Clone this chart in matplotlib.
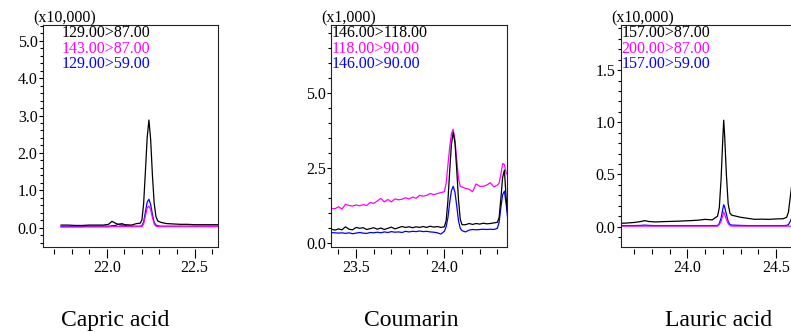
import matplotlib
matplotlib.use('Agg')
import matplotlib.pyplot as plt
from matplotlib.ticker import MultipleLocator, FormatStrFormatter

plt.rcParams['font.family'] = ['Liberation Serif', 'DejaVu Serif']
plt.rcParams['font.size'] = 11.5

# ---- Capric acid (x10,000) ----
capric_time = [21.74, 21.78, 21.82, 21.86, 21.90, 21.94, 21.98, 22.01, 22.03, 22.05,
               22.07, 22.09, 22.11, 22.14, 22.17, 22.19, 22.20, 22.21, 22.22, 22.23,
               22.24, 22.25, 22.26, 22.27, 22.28, 22.29, 22.31, 22.34, 22.38, 22.42,
               22.46, 22.50, 22.54, 22.58, 22.64]
capric_129_87 = [0.07, 0.07, 0.06, 0.06, 0.07, 0.07, 0.07, 0.09, 0.17, 0.12,
                 0.08, 0.07, 0.08, 0.07, 0.11, 0.12, 0.20, 0.65, 1.50, 2.40,
                 2.88, 2.35, 1.40, 0.65, 0.30, 0.18, 0.14, 0.11, 0.10, 0.09,
                 0.09, 0.08, 0.08, 0.08, 0.08]
capric_143_87 = [0.02, 0.02, 0.02, 0.02, 0.02, 0.02, 0.02, 0.02, 0.03, 0.03,
                 0.03, 0.03, 0.03, 0.03, 0.03, 0.03, 0.03, 0.10, 0.32, 0.52,
                 0.58, 0.48, 0.27, 0.10, 0.04, 0.03, 0.03, 0.03, 0.03, 0.03,
                 0.03, 0.03, 0.03, 0.03, 0.03]
capric_129_59 = [0.03, 0.03, 0.03, 0.03, 0.04, 0.04, 0.04, 0.04, 0.05, 0.06,
                 0.10, 0.11, 0.05, 0.04, 0.04, 0.04, 0.05, 0.15, 0.42, 0.68,
                 0.76, 0.62, 0.35, 0.14, 0.07, 0.05, 0.04, 0.04, 0.04, 0.04,
                 0.04, 0.04, 0.04, 0.04, 0.04]

# ---- Coumarin (x1,000) ----
coumarin_time = [23.34, 23.38, 23.40, 23.42, 23.44, 23.46, 23.48, 23.50, 23.52, 23.54,
                 23.56, 23.58, 23.60, 23.62, 23.64, 23.66, 23.68, 23.70, 23.72, 23.74,
                 23.76, 23.78, 23.80, 23.82, 23.84, 23.86, 23.88, 23.90, 23.92, 23.94,
                 23.96, 23.98, 24.00, 24.01, 24.02, 24.03, 24.04, 24.05, 24.06, 24.07,
                 24.08, 24.09, 24.10, 24.12, 24.14, 24.16, 24.18, 24.20, 24.22, 24.24,
                 24.26, 24.28, 24.30, 24.31, 24.32, 24.33, 24.34, 24.35, 24.36]
coumarin_146_118 = [0.50, 0.44, 0.48, 0.45, 0.55, 0.47, 0.45, 0.53, 0.50, 0.52,
                    0.46, 0.49, 0.52, 0.47, 0.51, 0.46, 0.50, 0.54, 0.48, 0.52,
                    0.56, 0.53, 0.55, 0.52, 0.55, 0.53, 0.56, 0.53, 0.57, 0.54,
                    0.56, 0.53, 0.55, 0.75, 1.40, 2.40, 3.30, 3.70, 3.35, 2.45,
                    1.45, 0.80, 0.62, 0.62, 0.66, 0.63, 0.66, 0.64, 0.67, 0.65,
                    0.66, 0.68, 0.70, 0.85, 1.50, 2.20, 2.44, 1.50, 0.90]
coumarin_118_90 = [1.17, 1.15, 1.22, 1.14, 1.30, 1.26, 1.24, 1.28, 1.25, 1.29,
                   1.26, 1.36, 1.33, 1.41, 1.50, 1.38, 1.46, 1.38, 1.48, 1.45,
                   1.47, 1.52, 1.48, 1.54, 1.50, 1.60, 1.57, 1.60, 1.66, 1.62,
                   1.66, 1.69, 1.72, 2.00, 2.60, 3.20, 3.65, 3.80, 3.45, 2.80,
                   2.15, 1.90, 1.88, 1.83, 1.80, 1.72, 1.98, 1.90, 1.90, 1.94,
                   2.02, 1.88, 1.94, 2.00, 2.30, 2.66, 2.62, 2.35, 2.25]
coumarin_146_90 = [0.36, 0.35, 0.34, 0.35, 0.33, 0.35, 0.32, 0.34, 0.36, 0.34,
                   0.33, 0.36, 0.35, 0.37, 0.35, 0.38, 0.36, 0.39, 0.37, 0.38,
                   0.36, 0.40, 0.38, 0.40, 0.39, 0.41, 0.39, 0.40, 0.38, 0.37,
                   0.35, 0.31, 0.40, 0.55, 0.85, 1.35, 1.75, 1.90, 1.70, 1.25,
                   0.75, 0.50, 0.42, 0.38, 0.44, 0.46, 0.45, 0.46, 0.47, 0.46,
                   0.47, 0.46, 0.50, 0.70, 1.20, 1.62, 1.74, 1.30, 0.75]

# ---- Lauric acid (x10,000) ----
lauric_time = [23.60, 23.66, 23.70, 23.74, 23.76, 23.78, 23.82, 23.86, 23.90, 23.94,
               23.98, 24.02, 24.06, 24.10, 24.14, 24.17, 24.18, 24.19, 24.20, 24.205,
               24.21, 24.22, 24.23, 24.24, 24.25, 24.30, 24.34, 24.38, 24.42, 24.46,
               24.50, 24.54, 24.56, 24.57, 24.58, 24.59, 24.60]
lauric_157_87 = [0.03, 0.035, 0.04, 0.05, 0.058, 0.05, 0.045, 0.048, 0.05, 0.052,
                 0.055, 0.058, 0.062, 0.07, 0.065, 0.10, 0.18, 0.45, 0.85, 1.02,
                 0.88, 0.50, 0.22, 0.13, 0.11, 0.09, 0.08, 0.07, 0.072, 0.07,
                 0.074, 0.076, 0.09, 0.14, 0.28, 0.42, 0.55]
lauric_200_87 = [0.005, 0.005, 0.005, 0.005, 0.005, 0.005, 0.005, 0.005, 0.005, 0.005,
                 0.005, 0.005, 0.005, 0.005, 0.005, 0.005, 0.02, 0.05, 0.11, 0.14,
                 0.12, 0.07, 0.03, 0.01, 0.005, 0.005, 0.005, 0.005, 0.005, 0.005,
                 0.005, 0.005, 0.005, 0.005, 0.005, 0.005, 0.005]
lauric_157_59 = [0.01, 0.01, 0.01, 0.012, 0.015, 0.012, 0.01, 0.01, 0.01, 0.01,
                 0.01, 0.01, 0.01, 0.01, 0.01, 0.01, 0.03, 0.08, 0.17, 0.21,
                 0.19, 0.12, 0.05, 0.02, 0.015, 0.012, 0.01, 0.01, 0.01, 0.01,
                 0.01, 0.01, 0.012, 0.02, 0.05, 0.09, 0.13]

compounds = ['Capric acid', 'Coumarin', 'Lauric acid']
scales = ['(x10,000)', '(x1,000)', '(x10,000)']
transitions = [['129.00>87.00', '143.00>87.00', '129.00>59.00'],
               ['146.00>118.00', '118.00>90.00', '146.00>90.00'],
               ['157.00>87.00', '200.00>87.00', '157.00>59.00']]
times = [capric_time, coumarin_time, lauric_time]
traces = [[capric_129_87, capric_143_87, capric_129_59],
          [coumarin_146_118, coumarin_118_90, coumarin_146_90],
          [lauric_157_87, lauric_200_87, lauric_157_59]]
colors = ['black', '#ff00ff', '#0000ff']

W, H = 791, 332
# axes boxes in pixels (left, right, top, bottom)
boxes = [(42.7, 217.5, 25, 246.7), (331, 506.7, 25, 246.7), (620.5, 792, 25, 246.7)]
xlims = [(21.636, 22.630), (23.358, 24.353), (23.623, 24.590)]
ylims = [(-0.508, 5.42), (-0.113, 7.277), (-0.192, 1.932)]
y_major = [1.0, 2.5, 0.5]
y_minor = [0.2, 0.5, 0.1]
title_x = [115, 411, 719]

fig = plt.figure(figsize=(W / 100, H / 100), dpi=100)

for i in range(3):
    l, r, t, b = boxes[i]
    ax = fig.add_axes([l / W, (H - b) / H, (r - l) / W, (b - t) / H])
    _t = times[i]
    # draw main trace last so it sits on top
    for k in [2, 1, 0]:
        ax.plot(_t, traces[i][k], color=colors[k], lw=0.9)

    ax.set_xlim(*xlims[i])
    ax.set_ylim(*ylims[i])

    ax.xaxis.set_major_locator(MultipleLocator(0.5))
    ax.xaxis.set_minor_locator(MultipleLocator(0.1))
    ax.xaxis.set_major_formatter(FormatStrFormatter('%.1f'))
    ax.yaxis.set_major_locator(MultipleLocator(y_major[i]))
    ax.yaxis.set_minor_locator(MultipleLocator(y_minor[i]))
    ax.yaxis.set_major_formatter(FormatStrFormatter('%.1f'))

    ax.tick_params(axis='x', which='major', direction='out', length=6.5, width=0.8, pad=1.5)
    ax.tick_params(axis='x', which='minor', direction='out', length=3.6, width=0.8)
    ax.tick_params(axis='y', which='major', direction='out', length=3.2, width=0.8, pad=0.5)
    ax.tick_params(axis='y', which='minor', direction='out', length=2.2, width=0.8)

    for s in ax.spines.values():
        s.set_linewidth(0.8)
        s.set_color('#222222')
    # x ticks sit a little below the frame
    ax.spines['bottom'].set_position(('outward', 1.5))
    ax.spines['bottom'].set_visible(False)
    ax.plot([0, 1], [0, 0], transform=ax.transAxes, color='#222222', lw=0.8, clip_on=False)
    if i == 2:
        ax.spines['right'].set_visible(False)

    ax.annotate(scales[i], xy=(0, 1), xycoords='axes fraction',
                xytext=(-6.8, 5), textcoords='offset points',
                ha='left', va='center')

    _x0 = max(_t[0], xlims[i][0])
    for k, ypos in enumerate([0.9626, 0.8918, 0.8227]):
        ax.annotate(transitions[i][k], xy=(_x0, ypos), xycoords=('data', 'axes fraction'),
                    xytext=(0.7, 0), textcoords='offset points',
                    ha='left', va='center', color=colors[k])

    fig.text(title_x[i] / W, (H - 326) / H, compounds[i],
             ha='center', va='baseline', fontsize=17)

fig.savefig('out.png', dpi=100)
